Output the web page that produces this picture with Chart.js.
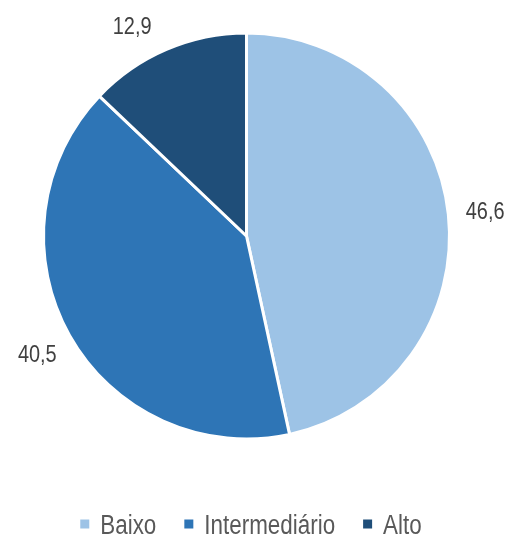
<!DOCTYPE html>
<html>
<head>
<meta charset="utf-8">
<script src="https://cdn.jsdelivr.net/npm/chart.js@4/dist/chart.umd.min.js"></script>
<style>
  html, body { margin: 0; padding: 0; background: #ffffff; }
  #wrap { width: 512px; height: 536px; position: relative; }
</style>
</head>
<body>
<div id="wrap"><canvas id="c" width="512" height="536"></canvas></div>
<script>
const categories = ['Baixo', 'Intermediário', 'Alto'];
const values = [46.6, 40.5, 12.9];
const valueLabels = ['46,6', '40,5', '12,9'];
const colors = ['#9DC3E6', '#2E75B6', '#1F4E79'];

const FONT_FAMILY = '"Liberation Sans", Arial, sans-serif';
const NARROW = 0.83;

function narrowText(ctx, text, x, y) {
  ctx.save();
  ctx.translate(x, y);
  ctx.scale(NARROW, 1);
  ctx.fillText(text, 0, 0);
  ctx.restore();
}

const outsideLabels = {
  id: 'outsideLabels',
  afterDatasetsDraw(chart) {
    const ctx = chart.ctx;
    const meta = chart.getDatasetMeta(0);
    ctx.save();
    ctx.font = '24px ' + FONT_FAMILY;
    ctx.fillStyle = '#404040';
    ctx.textAlign = 'center';
    ctx.textBaseline = 'alphabetic';
    meta.data.forEach((arc, i) => {
      const p = arc.getProps(['x', 'y', 'startAngle', 'endAngle', 'outerRadius'], true);
      const mid = (p.startAngle + p.endAngle) / 2;
      const R = p.outerRadius + 37;
      let lx = p.x + Math.cos(mid) * R;
      let ly = p.y + Math.sin(mid) * R;
      const minY = 25;
      if (ly < minY) {
        ly = minY;
        const dy = ly - p.y;
        const dx = Math.sqrt(Math.max(R * R - dy * dy, 0));
        lx = p.x + (Math.cos(mid) < 0 ? -dx : dx);
      }
      narrowText(ctx, valueLabels[i], lx, ly + 24 * 0.358);
    });
    ctx.restore();
  }
};

const bottomLegend = {
  id: 'bottomLegend',
  afterDraw(chart) {
    const ctx = chart.ctx;
    const labels = chart.data.labels;
    const bg = chart.data.datasets[0].backgroundColor;
    ctx.save();
    ctx.font = '27px ' + FONT_FAMILY;
    const box = 9, gapText = 11, gapItem = 28;
    const widths = labels.map(t => ctx.measureText(t).width * NARROW);
    let total = 0;
    widths.forEach((w, i) => { total += box + gapText + w + (i < widths.length - 1 ? gapItem : 0); });
    const centerX = 251;
    const cy = 524;
    let x = centerX - total / 2;
    labels.forEach((t, i) => {
      ctx.fillStyle = bg[i];
      ctx.fillRect(x, cy - box / 2, box, box);
      x += box + gapText;
      ctx.fillStyle = '#595959';
      ctx.textAlign = 'left';
      ctx.textBaseline = 'alphabetic';
      narrowText(ctx, t, x, cy + 27 * 0.358);
      x += widths[i] + gapItem;
    });
    ctx.restore();
  }
};

new Chart(document.getElementById('c'), {
  type: 'pie',
  data: {
    labels: categories,
    datasets: [{
      data: values,
      backgroundColor: colors,
      borderColor: '#ffffff',
      borderWidth: 3,
      radius: 203
    }]
  },
  options: {
    responsive: false,
    animation: false,
    devicePixelRatio: 1,
    layout: { padding: { left: 10, right: 29, top: 10, bottom: 74 } },
    plugins: {
      legend: { display: false },
      tooltip: { enabled: false },
      title: { display: false }
    }
  },
  plugins: [outsideLabels, bottomLegend]
});
</script>
</body>
</html>
